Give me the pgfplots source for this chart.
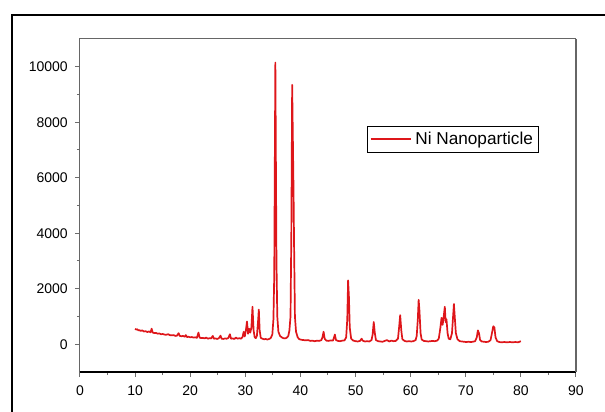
\documentclass[border=0pt]{standalone}
\usepackage{fontspec}
\setmainfont{Liberation Sans}
\usepackage{pgfplots}
\pgfplotsset{compat=1.18}
\definecolor{xrdred}{RGB}{222,22,26}

\begin{document}
\begin{tikzpicture}
\begin{axis}[
  at={(0pt,0pt)}, anchor=south west,
  scale only axis, width=248pt, height=166.5pt,
  xmin=0, xmax=90, ymin=-1000, ymax=11000,
  xtick={0,10,...,90}, ytick={0,2000,...,10000},
  scaled ticks=false,
  minor x tick num=1, minor y tick num=1,
  xtick pos=bottom, ytick pos=left,
  tick align=outside,
  major tick length=2.6pt, minor tick length=1.6pt,
  tick style={gray!85!black, line width=0.5pt},
  axis line style={gray!80!black, line width=0.5pt},
  tick label style={font=\fontsize{7}{8}\selectfont},
  /pgf/number format/assume math mode=true,
  /pgf/number format/1000 sep={},
  xticklabel style={yshift=-0.5pt},
  legend style={at={(0.579,0.739)}, anchor=north west, draw=black,
    line width=0.5pt, font=\fontsize{8.6}{9.5}\selectfont,
    inner xsep=1pt, inner ysep=0.6pt},
  legend image code/.code={\draw[#1] (0pt,0pt) -- (20pt,0pt);},
  clip=false,
]
\addplot[xrdred, line width=0.85pt, line join=round] coordinates {
(10.0,560) (10.2,530) (10.4,540) (10.6,500) (10.8,510) (11.0,480) (11.3,500) (11.6,460)
(11.9,470) (12.2,440) (12.5,460) (12.8,430) (13.0,560) (13.2,420) (13.5,400) (13.8,410)
(14.1,380) (14.4,390) (14.7,360) (15.0,370) (15.3,350) (15.6,340) (16.0,360) (16.3,330)
(16.6,320) (17.0,330) (17.3,300) (17.6,310) (17.9,400) (18.1,300) (18.4,290) (18.7,300)
(19.0,270) (19.2,330) (19.4,260) (19.7,270) (20.0,250) (20.3,260) (20.6,240) (20.9,250)
(21.2,230) (21.5,420) (21.7,240) (22.0,220) (22.3,230) (22.6,210) (22.9,240) (23.2,200)
(23.5,220) (23.8,210) (24.1,300) (24.3,200) (24.6,210) (24.9,190) (25.2,220) (25.5,310)
(25.7,200) (26.0,190) (26.3,210) (26.6,200) (26.9,220) (27.2,360) (27.4,200) (27.7,210)
(28.0,190) (28.3,240) (28.6,200) (28.9,220) (29.2,200) (29.5,260) (29.7,450) (29.9,280)
(30.1,500) (30.3,820) (30.5,380) (30.7,560) (30.9,420) (31.1,600) (31.3,1350) (31.5,500)
(31.7,250) (31.9,220) (32.1,300) (32.3,800) (32.45,1250) (32.6,500) (32.8,230) (33.1,200)
(33.4,180) (33.7,190) (34.0,170) (34.3,190) (34.6,220) (34.9,350) (35.1,900) (35.25,2500)
(35.35,6500) (35.45,10150) (35.55,6500) (35.65,3000) (35.8,1000) (36.0,450) (36.3,300)
(36.6,250) (36.9,220) (37.2,210) (37.5,230) (37.8,300) (38.0,500) (38.2,1000) (38.35,4000)
(38.5,9350) (38.62,7500) (38.75,5500) (38.85,3500) (39.0,1000) (39.2,450) (39.5,250)
(39.8,180) (40.2,160) (40.6,150) (41.0,140) (41.4,150) (41.8,120) (42.2,130) (42.6,110)
(43.0,130) (43.4,120) (43.8,150) (44.0,250) (44.2,450) (44.4,200) (44.7,130) (45.1,120)
(45.5,140) (45.9,130) (46.1,250) (46.25,350) (46.45,150) (46.8,120) (47.2,110) (47.6,130)
(48.0,140) (48.3,250) (48.5,900) (48.65,2300) (48.8,1700) (48.95,600) (49.2,200) (49.6,130)
(50.0,110) (50.4,100) (50.8,120) (51.1,200) (51.3,130) (51.7,100) (52.1,110) (52.5,100)
(52.9,150) (53.1,350) (53.3,800) (53.5,400) (53.7,150) (54.1,110) (54.5,100) (54.9,90)
(55.3,120) (55.7,150) (56.1,100) (56.5,130) (56.9,110) (57.3,120) (57.7,200) (57.9,600)
(58.1,1050) (58.3,500) (58.5,180) (58.9,120) (59.3,100) (59.7,110) (60.1,100) (60.5,110)
(60.9,150) (61.1,300) (61.3,900) (61.45,1600) (61.6,1200) (61.8,400) (62.0,170) (62.4,120)
(62.8,110) (63.2,100) (63.6,110) (64.0,120) (64.4,110) (64.8,130) (65.1,200) (65.4,600)
(65.6,950) (65.8,700) (66.0,1000) (66.2,1350) (66.35,800) (66.5,900) (66.7,400) (66.9,200)
(67.2,180) (67.5,400) (67.7,1000) (67.85,1450) (68.0,1000) (68.2,400) (68.5,180) (68.9,110)
(69.3,100) (69.7,90) (70.1,80) (70.5,90) (70.9,80) (71.3,90) (71.7,110) (72.0,250)
(72.2,500) (72.4,400) (72.6,150) (72.9,100) (73.3,90) (73.7,80) (74.1,90) (74.5,150)
(74.8,450) (75.0,650) (75.2,600) (75.4,250) (75.7,110) (76.1,80) (76.5,70) (77.0,80)
(77.5,70) (78.0,80) (78.5,70) (79.0,80) (79.5,70) (80.0,110)
};
\addlegendentry{Ni Nanoparticle}
\draw[black, line width=0.8pt] (rel axis cs:0,0) -- (rel axis cs:1,0);
\draw[gray!80!black, line width=1pt] (rel axis cs:1,0) -- (rel axis cs:1,1);
\end{axis}
\pgfresetboundingbox
\path[use as bounding box] (-40pt,-20pt) rectangle (262.5pt,186pt);
\begin{scope}
\clip (-40pt,-20pt) rectangle (262.5pt,186pt);
\draw[black, line width=1pt] (-34pt,-30pt) -- (-34pt,178.5pt) -- (280pt,178.5pt);
\end{scope}
\end{tikzpicture}
\end{document}
